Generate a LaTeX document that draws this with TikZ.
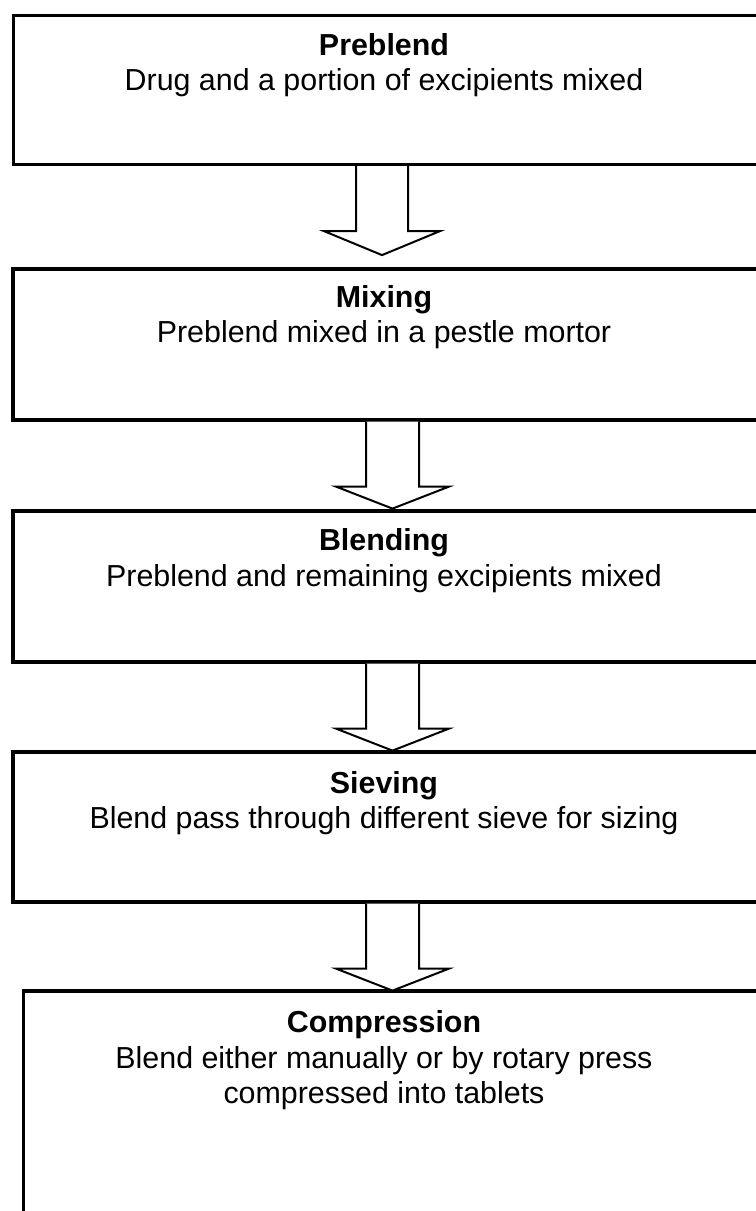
\documentclass[tikz,border=0pt]{standalone}
\usepackage{fontspec}
\setmainfont{Liberation Sans}
\usetikzlibrary{calc}
\begin{document}
\begin{tikzpicture}[x=1bp,y=-1bp,
  box/.style={draw=black, line width=3.2bp, inner sep=0pt},
  ttl/.style={font=\fontsize{30.5}{35}\selectfont\bfseries, anchor=base, inner sep=0pt},
  sub/.style={font=\fontsize{30.5}{35}\selectfont, anchor=base, inner sep=0pt},
  blockarrow/.style={draw=black, line width=2bp, fill=white, line join=miter}]
\useasboundingbox (0,0) rectangle (756,1211);
\clip (0,0) rectangle (756,1211);
% boxes
\node[box, minimum width=776.5bp, minimum height=149bp] (b1) at (401.75,90) {};
\node[box, minimum width=777bp, minimum height=151bp] (b2) at (401.5,344.5) {};
\node[box, minimum width=777bp, minimum height=151bp] (b3) at (401.5,586.5) {};
\node[box, minimum width=777bp, minimum height=150bp] (b4) at (401.5,827) {};
\node[box, minimum width=767bp, minimum height=400bp] (b5) at (407,1191) {};
% texts
\node[ttl] (t1) at (384,55.5) {Preblend};
\node[sub] (s1) at (384,90.5) {Drug and a portion of excipients mixed};
\node[ttl] (t2) at (384,307.5) {Mixing};
\node[sub] (s2) at (384,342.5) {Preblend mixed in a pestle mortor};
\node[ttl] (t3) at (384,550.5) {Blending};
\node[sub] (s3) at (384,586.5) {Preblend and remaining excipients mixed};
\node[ttl] (t4) at (384,793.5) {Sieving};
\node[sub] (s4) at (384,828.5) {Blend pass through different sieve for sizing};
\node[ttl] (t5) at (384,1032.5) {Compression};
\node[sub] (s5a) at (384,1068.5) {Blend either manually or by rotary press};
\node[sub] (s5b) at (384,1103.5) {compressed into tablets};
% arrows
\coordinate (a1) at (b1.south -| 382,0);
\coordinate (a2) at (b2.south -| 392.5,0);
\coordinate (a3) at (b3.south -| 392.5,0);
\coordinate (a4) at (b4.south -| 392.5,0);
\draw[blockarrow] ($(a1)+(-26,0)$) -- ($(a1)+(-26,65)$) -- ($(a1)+(-58,65)$) -- ($(a1)+(0,89)$) -- ($(a1)+(58,65)$) -- ($(a1)+(26,65)$) -- ($(a1)+(26,0)$);
\foreach \a in {a2,a3,a4}{
  \draw[blockarrow] ($(\a)+(-26.5,0)$) -- ($(\a)+(-26.5,65)$) -- ($(\a)+(-56.5,65)$) -- ($(\a)+(0,87)$) -- ($(\a)+(56.5,65)$) -- ($(\a)+(26.5,65)$) -- ($(\a)+(26.5,0)$);
}
\end{tikzpicture}
\end{document}
